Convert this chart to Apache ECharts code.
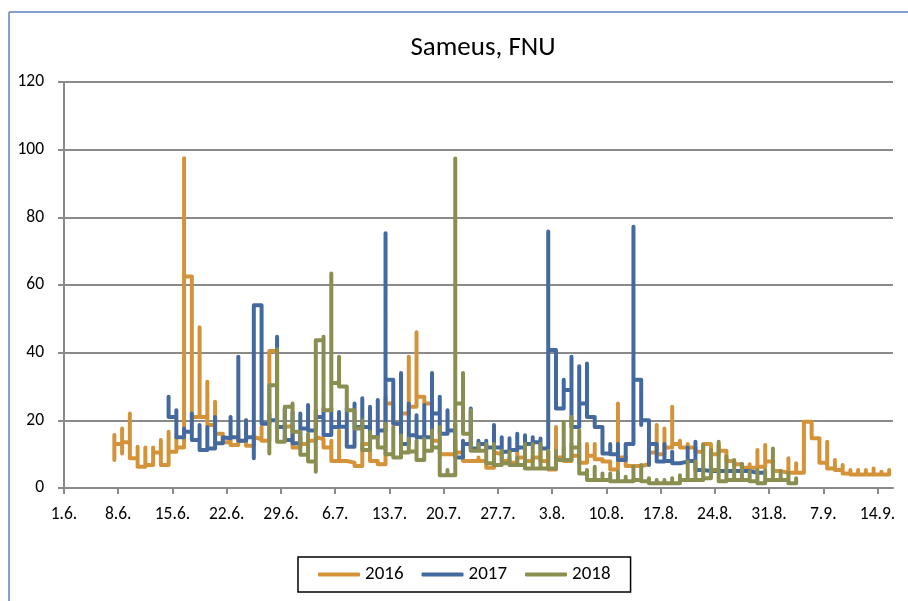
<!DOCTYPE html>
<html>
<head>
<meta charset="utf-8">
<script src="https://cdn.jsdelivr.net/npm/echarts@6/dist/echarts.min.js"></script>
<style>
  html, body { margin: 0; padding: 0; background: #fff; }
  #chart { width: 908px; height: 601px; }
</style>
</head>
<body>
<div id="chart"></div>
<script>
// x unit = days counted from 1.6.; every day can hold several readings (drawn on the same x)
const tickLabels = ['1.6.', '8.6.', '15.6.', '22.6.', '29.6.', '6.7.', '13.7.', '20.7.', '27.7.',
                    '3.8.', '10.8.', '17.8.', '24.8.', '31.8.', '7.9.', '14.9.'];
const yTicks = [0, 20, 40, 60, 80, 100, 120];

// 2016, first day = 7.6.
const start2016 = 6;
const days2016 = [
  [8.3, 15.7, 13], [13, 17.6, 10.2, 13.5], [13.5, 22, 8.8], [8.8, 12.2, 6.3], [6.3, 12, 6.8],
  [6.8, 12, 10.5], [10.5, 14.2, 6.8], [6.8, 16.6, 10.7], [10.7, 15, 12], [12, 97.5, 62.5],
  [60, 21], [21, 47.5, 21], [21, 31.4, 18.6], [18.6, 25.5, 16], [16, 13.5],
  [15, 12.7], [15, 17, 14], [14, 20, 12.5], [15, 14.5], [16, 18, 14],
  [17, 40.5], [41, 18], [18.5, 18.3], [18.3, 12], [13, 15, 13],
  [13, 14], [15, 14.5], [15, 12], [14, 8], [17, 8],
  [8, 7.5], [8, 6.5], [6.5, 13], [13, 8], [8, 7],
  [7, 27, 25], [22, 19], [19, 22], [22, 38.8, 24], [24, 46, 27],
  [27, 25], [17, 14], [11, 10], [10, 10], [10, 14, 10.5],
  [10, 8], [8, 8], [9, 8], [7, 6], [10.5, 10],
  [10, 8], [9, 7.5], [9, 11, 9], [9.5, 8], [9, 9],
  [11, 8], [11, 5.5], [8, 18, 9], [12, 8], [13, 9.5],
  [13, 7.5], [13, 9.5], [13, 8.5], [9, 7.8], [6.5, 5.5],
  [6, 25, 9], [8, 6.5], [7, 6.5], [7, 7], [7, 10.5],
  [10, 18.6, 10], [10, 17.6, 12], [12, 24, 13], [14, 12], [13, 12],
  [12, 10.7], [10.7, 13], [13, 10], [12.7, 11], [10, 8],
  [8.5, 7], [7, 6], [7, 6], [6, 11.2, 6.3], [6.5, 12.7, 7.8],
  [6, 5], [5, 4.5], [4.5, 8.8, 4.5], [4.5, 7.3, 4.5], [4.5, 19.6],
  [17.6, 14.7], [14.7, 7.5], [7.5, 13.7, 5.8], [5.8, 8.3, 5.3], [5.3, 6.8, 4.3],
  [4.3, 5.3, 4], [4, 5.3, 4], [4, 5.3, 4], [4, 5.8, 4], [4, 4.8, 4],
  [4, 5.3, 4.5]
];

// 2017, first day = 14.6.
const start2017 = 13;
const days2017 = [
  [27, 21], [23, 15], [17.6, 16.6], [22, 14.2], [18.6, 11.2],
  [18, 11.7], [21, 13.2], [15, 14.7], [21, 15], [38.8, 14],
  [20, 15], [8.8, 54], [52.6, 19], [22, 20], [20, 44.7, 18],
  [23.5, 14.2], [22.5, 13.2], [22, 17.6], [24.5, 17], [23, 21],
  [23.5, 15.7], [23.5, 18], [22.5, 18.1], [23.5, 12.2], [25, 18],
  [26.5, 18], [24, 15], [26, 17], [19, 75.3, 32], [31, 19],
  [34, 13], [25, 15.6], [21.5, 15], [24.5, 15], [34, 22],
  [27, 16], [23, 17], [19, 9], [14, 13], [23.5, 11.7],
  [14, 13], [14, 12], [18.6, 12], [15, 10.7], [14.7, 11.2],
  [16, 12], [15.6, 13], [15, 13.5], [14.6, 11.7], [11.7, 75.8, 40.8],
  [38, 23.5], [32, 23.5, 29], [29, 38.8, 18], [24, 36, 25], [36.8, 21],
  [21, 18], [16, 10.2], [13, 10], [13, 8.3], [8.3, 13],
  [16, 77.2, 32], [30.4, 18.6, 20], [20, 6.8, 13], [13, 7.8], [13, 8],
  [10.7, 7.3], [7.8, 7.8], [12, 8], [13.7, 5.3], [5.3, 5],
  [7.8, 5], [5, 5], [5, 5], [5, 5], [7, 5],
  [5.5, 4.5], [4.8, 4.5], [4.5, 4.3]
];

// 2018, first day = 27.6.
const start2018 = 26;
const days2018 = [
  [10.2, 30.4], [41, 13.7], [13.7, 24], [25, 16.6], [16.6, 9.8],
  [16, 7.8], [7.3, 4.8, 43.7], [44.7, 23], [23, 63.4, 31], [31, 38.8, 30],
  [29.5, 23], [23, 17.6], [20, 11.2], [16.6, 15], [14, 12],
  [19, 10], [18, 9], [15.5, 10.5], [14.6, 10.8], [14, 8.3],
  [14.6, 11], [17, 12], [18, 3.8], [5.3, 3.8], [5, 97.4, 25],
  [25, 34, 16], [23, 11], [13, 11], [13, 7.3], [13, 6.8],
  [11, 7.3], [10.7, 6.8], [9, 6.8], [13, 5.8], [13, 5.8],
  [13, 5.8], [11, 5.8], [11, 8.3], [19.6, 8.3], [21, 12],
  [17, 4.3], [5.3, 2.4], [6.3, 2.4], [4.3, 2.4], [4.3, 2],
  [4.8, 2], [3.3, 2], [6.3, 2.4], [6.8, 2], [2.9, 1.4],
  [2.4, 1.4], [2.4, 1.4], [2.9, 1.4], [3.8, 2.4], [7.8, 2.4],
  [7.8, 2.4], [12.7, 2.9], [11.2, 5.3], [13.7, 2], [9.3, 2.4],
  [8.3, 2.4], [7, 2.4], [4.8, 2], [5.3, 1.4], [5.3, 2.4],
  [11.7, 2.4], [5, 2.4], [4.5, 1.4], [2.9, 2.4]
];

// one point per reading, placed mid-day
function buildPoints(start, days) {
  const pts = [];
  days.forEach((vals, i) => {
    vals.forEach(v => pts.push([start + i + 0.5, v]));
  });
  return pts;
}

const tickValues = tickLabels.map((t, i) => i * 7);
const fontName = 'Carlito, Lato, sans-serif';

const chart = echarts.init(document.getElementById('chart'));

function lineSeries(name, color, data) {
  return {
    name: name,
    type: 'line',
    data: data,
    step: 'end',
    showSymbol: false,
    color: color,
    lineStyle: { width: 4, color: color, cap: 'round', join: 'round' },
    emphasis: { disabled: true },
    animation: false
  };
}

const option = {
  animation: false,
  title: {
    text: 'Sameus, FNU',
    left: 478,
    textAlign: 'center',
    top: 30,
    textStyle: { fontFamily: fontName, fontSize: 27, fontWeight: 'normal', color: '#000' }
  },
  graphic: [
    { type: 'line', shape: { x1: 9, y1: 12, x2: 908, y2: 12 }, style: { stroke: '#86A0CC', lineWidth: 2 } },
    { type: 'line', shape: { x1: 9, y1: 12, x2: 9, y2: 601 }, style: { stroke: '#86A0CC', lineWidth: 2 } }
  ],
  legend: {
    left: 298,
    top: 557,
    padding: [8, 20, 8, 20],
    borderColor: '#000',
    borderWidth: 1.5,
    itemGap: 18,
    itemWidth: 42,
    itemHeight: 4,
    icon: 'roundRect',
    textStyle: { fontFamily: fontName, fontSize: 19, color: '#000' },
    data: ['2016', '2017', '2018']
  },
  grid: { left: 64, right: 15, top: 82, bottom: 113, containLabel: false },
  xAxis: {
    type: 'value',
    min: 0,
    max: 107,
    interval: 7,
    axisLine: { show: true, onZero: false, lineStyle: { color: '#8A8A8A', width: 2 } },
    axisTick: { show: true, length: 6, customValues: tickValues, lineStyle: { color: '#8A8A8A', width: 2 } },
    splitLine: { show: false },
    axisLabel: {
      customValues: tickValues,
      margin: 18,
      fontFamily: fontName,
      fontSize: 17.5,
      color: '#000',
      formatter: function (value) {
        return tickLabels[Math.round(value / 7)] || '';
      }
    }
  },
  yAxis: {
    type: 'value',
    min: yTicks[0],
    max: yTicks[yTicks.length - 1],
    interval: 20,
    axisLine: { show: true, lineStyle: { color: '#8A8A8A', width: 2 } },
    axisTick: { show: true, length: 6, lineStyle: { color: '#8A8A8A', width: 2 } },
    splitLine: { show: true, lineStyle: { color: '#8A8A8A', width: 2 } },
    axisLabel: { margin: 20, fontFamily: fontName, fontSize: 17.5, color: '#000' }
  },
  series: [
    lineSeries('2016', '#D59339', buildPoints(start2016, days2016)),
    lineSeries('2017', '#44699E', buildPoints(start2017, days2017)),
    lineSeries('2018', '#8A8E50', buildPoints(start2018, days2018))
  ]
};

chart.setOption(option);
</script>
</body>
</html>
